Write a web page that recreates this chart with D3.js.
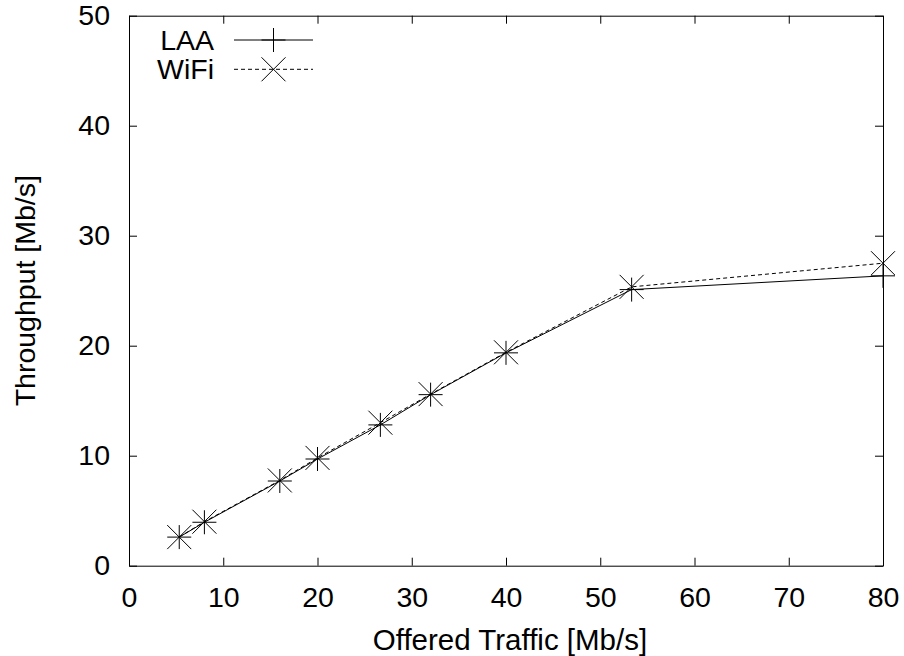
<!DOCTYPE html>
<html>
<head>
<meta charset="utf-8">
<script src="https://d3js.org/d3.v7.min.js"></script>
<style>
  body { margin: 0; background: #fff; }
  svg { display: block; font-family: "Liberation Sans", Arial, Helvetica, sans-serif; }
  .axis text { font-size: 28.5px; fill: #000; }
  .axis path, .axis line { stroke: #000; stroke-width: 1; }
</style>
</head>
<body>
<div id="chart"></div>
<script>
// offered load (x) and measured throughput per technology
const offered = [5.33, 8, 16, 20, 26.67, 32, 40, 53.33, 80];
const laa     = [2.6, 3.95, 7.7, 9.7, 12.8, 15.55, 19.35, 25.1, 26.35];
const wifi    = [2.6, 4.0, 7.75, 9.8, 13.0, 15.6, 19.4, 25.35, 27.5];
const xTicks  = [0, 10, 20, 30, 40, 50, 60, 70, 80];
const yTicks  = [0, 10, 20, 30, 40, 50];
const seriesNames = ["LAA", "WiFi"];

const width = 904, height = 656;
const margin = { top: 15.7, right: 21, bottom: 90.3, left: 129 };

const svg = d3.select("#chart").append("svg")
  .attr("width", width)
  .attr("height", height);

const x = d3.scaleLinear().domain([0, 80]).range([margin.left, width - margin.right]);
const y = d3.scaleLinear().domain([0, 50]).range([height - margin.bottom, margin.top]);

// axes, ticks point inward like gnuplot
svg.append("g")
  .attr("class", "axis")
  .attr("transform", `translate(0,${y(0)})`)
  .call(d3.axisBottom(x).tickValues(xTicks).tickSize(-8).tickSizeOuter(0).tickPadding(21));

svg.append("g")
  .attr("class", "axis")
  .attr("transform", `translate(${x(0)},0)`)
  .call(d3.axisLeft(y).tickValues(yTicks).tickSize(-8).tickSizeOuter(0).tickPadding(19));

svg.append("g")
  .attr("class", "axis")
  .attr("transform", `translate(0,${y(50)})`)
  .call(d3.axisTop(x).tickValues(xTicks).tickSize(-8).tickSizeOuter(0).tickFormat(""));

svg.append("g")
  .attr("class", "axis")
  .attr("transform", `translate(${x(80)},0)`)
  .call(d3.axisRight(y).tickValues(yTicks).tickSize(-8).tickSizeOuter(0).tickFormat(""));

svg.selectAll(".axis text").attr("font-family", null).attr("font-size", null);

// axis titles
svg.append("text")
  .attr("x", (x(0) + x(80)) / 2 + 4)
  .attr("y", 650)
  .attr("text-anchor", "middle")
  .style("font-size", "29.5px")
  .text("Offered Traffic [Mb/s]");

svg.append("text")
  .attr("transform", `translate(35,${(y(0) + y(50)) / 2}) rotate(-90)`)
  .attr("text-anchor", "middle")
  .style("font-size", "28.5px")
  .text("Throughput [Mb/s]");

// marker paths
const S = 12;
const plusPath = (cx, cy) => `M${cx - S},${cy}H${cx + S}M${cx},${cy - S}V${cy + S}`;
const timesPath = (cx, cy) => `M${cx - S},${cy - S}L${cx + S},${cy + S}M${cx - S},${cy + S}L${cx + S},${cy - S}`;

const line = d3.line().x(d => x(d[0])).y(d => y(d[1]));

const series = [
  { name: seriesNames[0], values: d3.zip(offered, laa), dash: null, marker: plusPath },
  { name: seriesNames[1], values: d3.zip(offered, wifi), dash: "4,3", marker: timesPath }
];

series.forEach(s => {
  svg.append("path")
    .datum(s.values)
    .attr("d", line)
    .attr("fill", "none")
    .attr("stroke", "#000")
    .attr("stroke-width", 1)
    .attr("stroke-dasharray", s.dash);

  svg.append("g").selectAll("path")
    .data(s.values)
    .join("path")
    .attr("d", d => s.marker(x(d[0]), y(d[1])))
    .attr("fill", "none")
    .attr("stroke", "#000")
    .attr("stroke-width", 1);
});

// legend
const legend = svg.append("g");
series.forEach((s, i) => {
  const ly = 40 + i * 29.3;
  legend.append("text")
    .attr("x", 214)
    .attr("y", ly + 9.5)
    .attr("text-anchor", "end")
    .style("font-size", "28.5px")
    .text(s.name);
  legend.append("line")
    .attr("x1", 234).attr("x2", 313)
    .attr("y1", ly).attr("y2", ly)
    .attr("stroke", "#000")
    .attr("stroke-width", 1)
    .attr("stroke-dasharray", s.dash);
  legend.append("path")
    .attr("d", s.marker(273.5, ly))
    .attr("fill", "none")
    .attr("stroke", "#000")
    .attr("stroke-width", 1);
});
</script>
</body>
</html>
